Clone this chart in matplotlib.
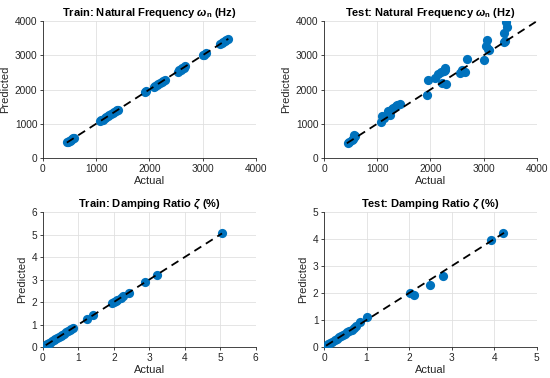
import matplotlib.pyplot as plt

plt.rcParams['font.family'] = ['Liberation Sans', 'DejaVu Sans']
plt.rcParams['mathtext.fontset'] = 'custom'
plt.rcParams['mathtext.it'] = 'Liberation Sans:italic:bold'
plt.rcParams['mathtext.rm'] = 'Liberation Sans:bold'

# Train: natural frequency (Hz)
train_freq_actual = [450, 470, 490, 510, 530, 550, 570, 590,
                     1080, 1100, 1130, 1160, 1190, 1220, 1250, 1280, 1310, 1340, 1370, 1400, 1420,
                     1920, 1940, 2080, 2110, 2140, 2170, 2200, 2230, 2260, 2290,
                     2530, 2560, 2590, 2620, 2650, 2670,
                     3000, 3030, 3060, 3330, 3360, 3390, 3420, 3450, 3480]
train_freq_pred = [455, 468, 495, 505, 535, 545, 575, 585,
                   1075, 1105, 1125, 1165, 1185, 1225, 1245, 1285, 1305, 1345, 1365, 1405, 1415,
                   1915, 1945, 2085, 2105, 2145, 2165, 2205, 2225, 2265, 2285,
                   2525, 2565, 2585, 2625, 2645, 2675,
                   3005, 3025, 3065, 3325, 3365, 3385, 3425, 3445, 3485]

# Test: natural frequency (Hz)
test_freq_actual = [450, 480, 520, 550, 570, 580, 560,
                    1080, 1100, 1120,
                    1200, 1250, 1270, 1300, 1350, 1380, 1420,
                    1930, 1950, 2080, 2150, 2200, 2220, 2250, 2280, 2290, 2270,
                    2550, 2600, 2650, 2680,
                    3000, 3040, 3060, 3080, 3100,
                    3380, 3390, 3420, 3440, 3400]
test_freq_pred = [430, 470, 520, 560, 600, 650, 660,
                  1050, 1220, 1180,
                  1380, 1250, 1420, 1450, 1520, 1560, 1570,
                  1830, 2280, 2330, 2450, 2500, 2200, 2550, 2620, 2170, 2560,
                  2480, 2560, 2520, 2880,
                  2870, 3260, 3460, 3180, 3150,
                  3400, 3640, 3980, 3830, 3430]

# Train: damping ratio (%)
train_damp_actual = [0.08, 0.12, 0.16, 0.2, 0.25, 0.3, 0.35, 0.4, 0.45, 0.5, 0.55,
                     0.6, 0.65, 0.7, 0.75, 0.8, 0.84,
                     1.24, 1.42, 1.95, 2.0, 2.05, 2.1, 2.2, 2.25, 2.42, 2.88, 3.22, 5.05]
train_damp_pred = [0.08, 0.12, 0.17, 0.2, 0.25, 0.31, 0.35, 0.4, 0.46, 0.5, 0.55,
                   0.6, 0.66, 0.7, 0.75, 0.8, 0.84,
                   1.24, 1.42, 1.94, 2.0, 2.05, 2.1, 2.2, 2.26, 2.42, 2.88, 3.22, 5.05]

# Test: damping ratio (%)
test_damp_actual = [0.05, 0.1, 0.15, 0.2, 0.25, 0.3, 0.35, 0.4, 0.45, 0.5, 0.55,
                    0.6, 0.65, 0.7, 0.75, 0.85, 1.02,
                    2.02, 2.12, 2.5, 2.8, 3.92, 4.2]
test_damp_pred = [0.05, 0.1, 0.16, 0.2, 0.27, 0.3, 0.37, 0.42, 0.44, 0.5, 0.56,
                  0.58, 0.64, 0.7, 0.78, 0.92, 1.1,
                  2.0, 1.93, 2.3, 2.62, 3.98, 4.23]

panels = [
    (train_freq_actual, train_freq_pred, r'Train: Natural Frequency $\omega_\mathrm{n}$ (Hz)', 4000, [0, 1000, 2000, 3000, 4000]),
    (test_freq_actual, test_freq_pred, r'Test: Natural Frequency $\omega_\mathrm{n}$ (Hz)', 4000, [0, 1000, 2000, 3000, 4000]),
    (train_damp_actual, train_damp_pred, r'Train: Damping Ratio $\zeta$ (%)', 6, [0, 1, 2, 3, 4, 5, 6]),
    (test_damp_actual, test_damp_pred, r'Test: Damping Ratio $\zeta$ (%)', 5, [0, 1, 2, 3, 4, 5]),
]

positions = [
    [0.078, 0.582, 0.387, 0.362],
    [0.589, 0.582, 0.387, 0.362],
    [0.078, 0.082, 0.387, 0.357],
    [0.589, 0.082, 0.387, 0.357],
]

fig = plt.figure(figsize=(5.5, 3.78), dpi=100)

for (actual, pred, title, lim, ticks), pos in zip(panels, positions):
    ax = fig.add_axes(pos)
    ax.scatter(actual, pred, s=44, color='#0072BD', zorder=3, linewidths=0)
    lo = min(min(actual), min(pred))
    hi = max(max(actual), max(pred))
    ax.plot([lo, hi], [lo, hi], color='black', linestyle=(0, (4.5, 3)), linewidth=1.3, zorder=4)
    ax.set_xlim(0, lim)
    ax.set_ylim(0, lim)
    ax.set_xticks(ticks)
    ax.set_yticks(ticks)
    ax.grid(True, color='#e0e0e0', linewidth=0.6)
    ax.set_axisbelow(True)
    for side in ['top', 'right']:
        ax.spines[side].set_visible(False)
    for side in ['left', 'bottom']:
        ax.spines[side].set_color('#262626')
        ax.spines[side].set_linewidth(0.6)
    ax.tick_params(labelsize=7.3, colors='#262626', length=2, width=0.6, pad=2)
    ax.set_xlabel('Actual', fontsize=8, color='#262626', labelpad=2)
    ax.set_ylabel('Predicted', fontsize=8, color='#262626', labelpad=3)
    ax.set_title(title, fontsize=8, fontweight='bold', pad=4)

fig.savefig('out.png', dpi=100)
